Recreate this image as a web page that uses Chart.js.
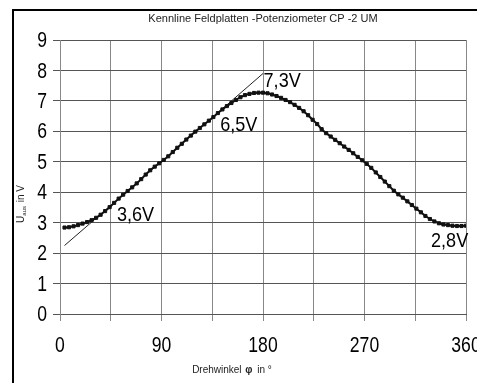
<!DOCTYPE html>
<html>
<head>
<meta charset="utf-8">
<script src="https://cdn.jsdelivr.net/npm/chart.js@4.4.1/dist/chart.umd.min.js"></script>
<style>
  html, body { margin: 0; padding: 0; background: #fff; overflow: hidden; }
  canvas { display: block; }
</style>
</head>
<body>
<canvas id="kennlinie" width="477" height="383"></canvas>
<script>
// Drehwinkel in Grad (Messpunkte)
const angles = [
  4, 8, 12, 16, 20, 24, 28, 32, 36, 40, 44, 48, 52, 56, 60, 64, 68, 72,
  76, 80, 84, 88, 92, 96, 100, 104, 108, 112, 116, 120, 124, 128, 132, 136,
  140, 144, 148, 152, 156, 160, 164, 168, 172, 176, 180, 184, 188, 192, 196,
  200, 204, 208, 212, 216, 220, 224, 228, 232, 236, 240, 244, 248, 252, 256,
  260, 264, 268, 272, 276, 280, 284, 288, 292, 296, 300, 304, 308, 312, 316,
  320, 324, 328, 332, 336, 340, 344, 348, 352, 356, 360
];
// Ausgangsspannung in V
const uAus = [
  2.84, 2.85, 2.88, 2.92, 2.97, 3.02, 3.08, 3.16, 3.26, 3.38, 3.51, 3.65,
  3.79, 3.92, 4.04, 4.16, 4.29, 4.43, 4.58, 4.72, 4.84, 4.95, 5.06, 5.18,
  5.32, 5.46, 5.59, 5.73, 5.86, 5.99, 6.11, 6.23, 6.35, 6.47, 6.60, 6.72,
  6.83, 6.93, 7.03, 7.12, 7.19, 7.23, 7.26, 7.27, 7.27, 7.25, 7.21, 7.16,
  7.10, 7.03, 6.96, 6.87, 6.77, 6.66, 6.53, 6.38, 6.24, 6.07, 5.94, 5.83,
  5.72, 5.61, 5.50, 5.39, 5.28, 5.16, 5.05, 4.93, 4.80, 4.65, 4.50, 4.35,
  4.20, 4.05, 3.93, 3.82, 3.70, 3.58, 3.46, 3.34, 3.22, 3.12, 3.04, 2.98,
  2.94, 2.92, 2.90, 2.89, 2.89, 2.90
];
// Tangenten
const tangentLowX = [4, 50];
const tangentLowY = [2.25, 3.72];
const tangentHighX = [135, 180];
const tangentHighY = [6.45, 7.9];
// Beschriftungen im Diagramm (Winkel, Spannung)
const noteTexts = ['3,6V', '6,5V', '7,3V', '2,8V'];
const noteX = [50.5, 142, 180.5, 329];
const noteY = [3.25, 6.2, 7.64, 2.38];

const mainFont = '"Liberation Sans", Arial, sans-serif';

function toPoints(xs, ys) {
  return xs.map((x, i) => ({ x: x, y: ys[i] }));
}

// schmale Schrift durch horizontale Stauchung
function narrowText(ctx, text, x, y, align, squeeze) {
  const w = ctx.measureText(text).width * squeeze;
  let left = x;
  if (align === 'center') left = x - w / 2;
  if (align === 'right') left = x - w;
  ctx.save();
  ctx.translate(left, y);
  ctx.scale(squeeze, 1);
  ctx.textAlign = 'left';
  ctx.fillText(text, 0, 0);
  ctx.restore();
}

// Rahmen, Titel, Achsenbeschriftung und Werte
const decorPlugin = {
  id: 'decor',
  afterDraw(chart) {
    const ctx = chart.ctx;
    const area = chart.chartArea;
    const xs = chart.scales.x;
    const ys = chart.scales.y;
    ctx.save();

    // Rahmen links und oben
    ctx.strokeStyle = '#000';
    ctx.lineWidth = 2;
    ctx.beginPath();
    ctx.moveTo(13, chart.height);
    ctx.lineTo(13, 10);
    ctx.lineTo(chart.width, 10);
    ctx.stroke();

    // Titel
    ctx.fillStyle = '#222';
    ctx.font = '11px ' + mainFont;
    ctx.textAlign = 'center';
    ctx.textBaseline = 'middle';
    ctx.fillText('Kennline Feldplatten -Potenziometer CP -2 UM', (area.left + area.right) / 2, 19);

    // Achsenzahlen
    ctx.fillStyle = '#000';
    ctx.font = '22px ' + mainFont;
    ctx.textBaseline = 'middle';
    xs.ticks.forEach(t => {
      if (t.value % 90 === 0) {
        narrowText(ctx, String(t.value), xs.getPixelForValue(t.value), 346, 'center', 0.8);
      }
    });
    ys.ticks.forEach(t => {
      narrowText(ctx, String(t.value), 47, ys.getPixelForValue(t.value) + 1, 'right', 0.8);
    });

    // x-Achsentitel
    ctx.fillStyle = '#222';
    ctx.font = '10px ' + mainFont;
    ctx.textAlign = 'left';
    const xt1 = 'Drehwinkel ';
    const xt2 = 'φ';
    const xt3 = ' in °';
    let w = ctx.measureText(xt1 + xt3).width;
    ctx.font = 'bold 10px ' + mainFont;
    w += ctx.measureText(xt2).width + 3;
    let px = 232 - w / 2;
    ctx.font = '10px ' + mainFont;
    ctx.fillText(xt1, px, 370);
    px += ctx.measureText(xt1).width + 1;
    ctx.font = 'bold 10px ' + mainFont;
    ctx.fillText(xt2, px, 370);
    px += ctx.measureText(xt2).width + 2;
    ctx.font = '10px ' + mainFont;
    ctx.fillText(xt3, px, 370);

    // y-Achsentitel (gedreht, mit Index)
    ctx.translate(21, 204);
    ctx.rotate(-Math.PI / 2);
    ctx.font = '10px ' + mainFont;
    const wU = ctx.measureText('U').width;
    ctx.font = '6px ' + mainFont;
    const wSub = ctx.measureText('aus').width;
    ctx.font = '10px ' + mainFont;
    const wRest = ctx.measureText(' in V').width;
    let qx = -(wU + wSub + wRest + 1) / 2;
    ctx.fillText('U', qx, 0);
    qx += wU;
    ctx.font = '6px ' + mainFont;
    ctx.fillText('aus', qx, 3);
    qx += wSub + 1;
    ctx.font = '10px ' + mainFont;
    ctx.fillText(' in V', qx, 0);
    ctx.setTransform(1, 0, 0, 1, 0, 0);

    // Werte-Beschriftungen
    ctx.fillStyle = '#000';
    ctx.font = '21px ' + mainFont;
    ctx.textBaseline = 'middle';
    noteTexts.forEach((t, i) => {
      narrowText(ctx, t, xs.getPixelForValue(noteX[i]), ys.getPixelForValue(noteY[i]), 'left', 0.86);
    });

    ctx.restore();
  }
};

new Chart(document.getElementById('kennlinie'), {
  type: 'line',
  data: {
    datasets: [
      {
        data: toPoints(angles, uAus),
        borderColor: '#111',
        borderWidth: 2,
        pointStyle: 'rect',
        pointRadius: 2.2,
        pointBackgroundColor: '#111',
        pointBorderColor: '#111',
        pointBorderWidth: 1,
        tension: 0
      },
      {
        data: toPoints(tangentLowX, tangentLowY),
        borderColor: '#222',
        borderWidth: 1,
        pointRadius: 0
      },
      {
        data: toPoints(tangentHighX, tangentHighY),
        borderColor: '#222',
        borderWidth: 1,
        pointRadius: 0
      }
    ]
  },
  options: {
    responsive: false,
    animation: false,
    devicePixelRatio: 1,
    layout: { padding: { top: 40, right: 11, left: 0, bottom: 0 } },
    plugins: {
      legend: { display: false },
      title: { display: false },
      tooltip: { enabled: false }
    },
    scales: {
      x: {
        type: 'linear',
        min: 0,
        max: 360,
        grid: { color: '#888', lineWidth: 1, tickLength: 7 },
        border: { color: '#555' },
        ticks: {
          stepSize: 45,
          autoSkip: false,
          maxRotation: 0,
          padding: 11,
          color: 'rgba(0,0,0,0)',
          font: { family: mainFont, size: 22 }
        },
        afterFit(scale) {
          scale.paddingLeft = 0;
          scale.paddingRight = 0;
          scale.height = 69;
        }
      },
      y: {
        min: 0,
        max: 9,
        grid: { color: '#555', lineWidth: 1, tickLength: 7 },
        border: { color: '#888' },
        ticks: {
          stepSize: 1,
          padding: 6,
          color: 'rgba(0,0,0,0)',
          font: { family: mainFont, size: 22 }
        },
        afterFit(scale) {
          scale.width = 60;
          scale.paddingTop = 0;
          scale.paddingBottom = 0;
        }
      }
    }
  },
  plugins: [decorPlugin]
});
</script>
</body>
</html>
